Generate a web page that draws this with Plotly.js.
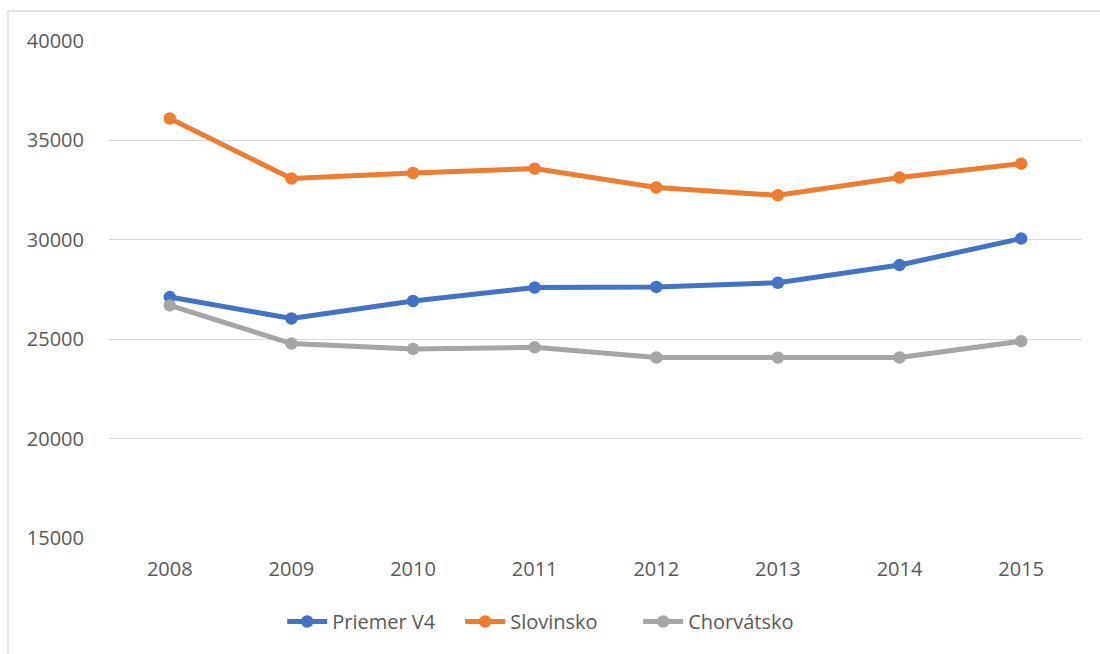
<!DOCTYPE html>
<html>
<head>
<meta charset="utf-8">
<script src="https://cdn.plot.ly/plotly-3.0.1.min.js"></script>
<style>html,body{margin:0;padding:0;background:#fff;}#chart{width:1100px;height:654px;}</style>
</head>
<body>
<div id="chart"></div>
<script>
const years = ['2008','2009','2010','2011','2012','2013','2014','2015'];
const priemerV4 = [27120, 26040, 26920, 27600, 27630, 27840, 28730, 30060];
const slovinsko = [36100, 33080, 33360, 33580, 32630, 32240, 33130, 33830];
const chorvatsko = [26700, 24780, 24510, 24590, 24080, 24070, 24080, 24900];
const seriesNames = ['Priemer V4', 'Slovinsko', 'Chorvátsko'];
const seriesColors = ['#4472C4', '#ED7D31', '#A5A5A5'];
const seriesValues = [priemerV4, slovinsko, chorvatsko];

const traces = seriesValues.map((vals, i) => ({
  type: 'scatter',
  mode: 'lines+markers',
  name: seriesNames[i],
  x: years,
  y: vals,
  line: {color: seriesColors[i], width: 5},
  marker: {color: seriesColors[i], size: 12.5}
}));

const font = {family: '"Open Sans", "Liberation Sans", sans-serif', color: '#595959', size: 20};

const layout = {
  width: 1100, height: 654,
  margin: {l: 109, r: 18, t: 41, b: 116},
  paper_bgcolor: '#ffffff', plot_bgcolor: '#ffffff',
  font: font,
  showlegend: true,
  legend: {orientation: 'h', x: 0.178, xanchor: 'left', y: -0.168, yanchor: 'middle',
           font: font, traceorder: 'normal', itemwidth: 40, entrywidth: 123, entrywidthmode: 'pixels'},
  xaxis: {type: 'category', range: [-0.5, 7.5], showgrid: false, zeroline: false, showline: false,
          ticks: 'outside', ticklen: 13, tickcolor: 'rgba(0,0,0,0)', tickfont: font},
  yaxis: {range: [15000, 40000], dtick: 5000, tick0: 15000, showgrid: true, gridcolor: '#D9D9D9', gridwidth: 1.3,
          zeroline: false, showline: false, ticks: 'outside', ticklen: 20, tickcolor: 'rgba(0,0,0,0)',
          tickfont: font, tickformat: 'd'},
  shapes: [{type: 'rect', xref: 'paper', yref: 'paper', x0: -0.1038, x1: 1.05, y0: -0.3, y1: 1.0604,
            line: {color: '#D9D9D9', width: 1.3}, fillcolor: 'rgba(0,0,0,0)', layer: 'below'}]
};

Plotly.newPlot('chart', traces, layout, {displayModeBar: false, staticPlot: true});
</script>
</body>
</html>
